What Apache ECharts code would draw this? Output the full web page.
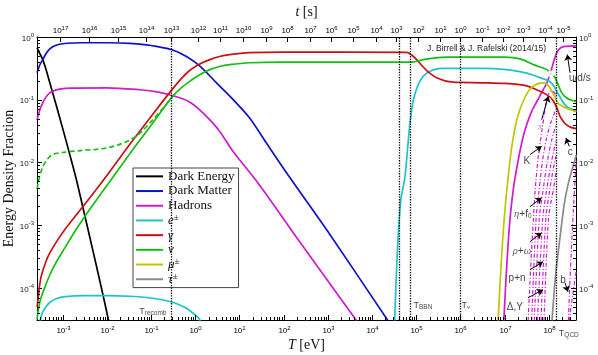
<!DOCTYPE html>
<html>
<head>
<meta charset="utf-8">
<script src="https://cdn.jsdelivr.net/npm/echarts@6/dist/echarts.min.js"></script>
<style>
  html, body { margin: 0; padding: 0; background: #fff; }
  #chart { width: 598px; height: 355px; }
</style>
</head>
<body>
<div id="chart"></div>
<script>
// every curve is stored as [log10(T / eV), log10(energy density fraction)]
const darkEnergy = [[-3.58,-0.17],[-3.52,-0.26],[-3.45,-0.36],[-3.37,-0.53],[-3.29,-0.73],[-3.14,-1.10],[-2.99,-1.48],[-2.84,-1.87],[-2.69,-2.27],[-2.54,-2.72],[-2.31,-3.42],[-2.09,-4.10],[-1.96,-4.52]]
const darkMatter = [[-3.58,-0.57],[-3.52,-0.45],[-3.45,-0.36],[-3.37,-0.26],[-3.29,-0.19],[-3.18,-0.14],[-3.07,-0.115],[-2.9,-0.10],[-2.6,-0.092],[-2.0,-0.092],[-1.48,-0.10],[-1.1,-0.125],[-0.88,-0.15],[-0.54,-0.20],[-0.2,-0.31],[0.1,-0.46],[0.48,-0.73],[0.82,-0.97],[1.23,-1.29],[1.61,-1.69],[2.1,-2.2],[3.0,-3.1],[4.36,-4.52]]
const hadronsCold = [[-3.58,-1.32],[-3.52,-1.17],[-3.45,-1.05],[-3.37,-0.95],[-3.29,-0.89],[-3.18,-0.85],[-3.07,-0.83],[-2.8,-0.815],[-2.0,-0.81],[-1.26,-0.84],[-0.9,-0.87],[-0.58,-0.92],[-0.3,-0.98],[-0.12,-1.04],[0.1,-1.16],[0.33,-1.32],[0.55,-1.5],[0.86,-1.83],[1.39,-2.3],[2.37,-3.27],[3.65,-4.52]]
const hadronsHot = [[6.98,-4.52],[7.05,-3.6],[7.12,-2.9],[7.2,-2.4],[7.27,-2.1],[7.35,-1.8],[7.45,-1.5],[7.6,-1.2],[7.75,-1.0],[7.87,-0.84],[7.95,-0.74],[8.02,-0.6],[8.08,-0.46],[8.14,-0.32],[8.2,-0.22],[8.27,-0.17],[8.36,-0.15],[8.62,-0.14]]
const electronsCold = [[-3.51,-4.52],[-3.45,-4.38],[-3.38,-4.3],[-3.29,-4.23],[-3.15,-4.17],[-2.99,-4.14],[-2.5,-4.12],[-2.0,-4.12],[-1.48,-4.13],[-1.1,-4.15],[-0.73,-4.19],[-0.5,-4.23],[-0.35,-4.27],[-0.2,-4.32],[-0.05,-4.4],[0.05,-4.46],[0.12,-4.52]]
const electronsHot = [[4.51,-4.52],[4.58,-3.3],[4.65,-2.6],[4.74,-2.25],[4.8,-1.8],[4.86,-1.35],[4.93,-1.02],[5.01,-0.82],[5.1,-0.68],[5.23,-0.58],[5.4,-0.52],[5.6,-0.5],[6.5,-0.5],[7.04,-0.52],[7.4,-0.56],[7.65,-0.61],[7.85,-0.66],[8.0,-0.7],[8.1,-0.77],[8.18,-0.87],[8.27,-0.98],[8.35,-1.07],[8.45,-1.13],[8.62,-1.18]]
const photons = [[-3.58,-4.3],[-3.56,-4.2],[-3.52,-3.95],[-3.48,-3.8],[-3.38,-3.58],[-3.29,-3.44],[-3.1,-3.22],[-2.92,-3.04],[-2.72,-2.86],[-2.54,-2.7],[-2.24,-2.43],[-1.94,-2.15],[-1.48,-1.71],[-0.96,-1.23],[-0.54,-0.85],[-0.3,-0.65],[-0.12,-0.53],[0.1,-0.43],[0.33,-0.36],[0.55,-0.31],[0.78,-0.28],[1.23,-0.25],[2.0,-0.24],[4.78,-0.245],[4.9,-0.29],[5.01,-0.36],[5.12,-0.45],[5.23,-0.53],[5.35,-0.6],[5.46,-0.65],[5.65,-0.7],[5.84,-0.72],[6.5,-0.73],[7.0,-0.74],[7.34,-0.76],[7.55,-0.79],[7.72,-0.84],[7.85,-0.88],[7.95,-0.92],[8.03,-0.96],[8.1,-1.02],[8.18,-1.13],[8.25,-1.26],[8.33,-1.35],[8.4,-1.4],[8.5,-1.44],[8.62,-1.46]]
const neutrinos = [[-3.58,-4.5],[-3.55,-4.35],[-3.5,-4.18],[-3.41,-4.0],[-3.27,-3.76],[-3.14,-3.58],[-2.95,-3.36],[-2.77,-3.15],[-2.5,-2.86],[-2.24,-2.6],[-1.94,-2.31],[-1.48,-1.86],[-0.96,-1.37],[-0.54,-0.97],[-0.3,-0.8],[-0.05,-0.67],[0.1,-0.6],[0.33,-0.52],[0.55,-0.47],[0.78,-0.44],[1.23,-0.41],[2.0,-0.40],[4.9,-0.40],[5.05,-0.38],[5.16,-0.36],[5.35,-0.34],[5.69,-0.32],[7.0,-0.32],[7.19,-0.33],[7.4,-0.36],[7.65,-0.44],[7.85,-0.49],[7.95,-0.52],[8.05,-0.58],[8.14,-0.65],[8.22,-0.78],[8.29,-0.89],[8.38,-0.96],[8.48,-1.0],[8.62,-1.03]]
const neutrinosDashed = [[-3.58,-2.42],[-3.52,-2.22],[-3.45,-2.07],[-3.35,-1.95],[-3.22,-1.87],[-3.0,-1.84],[-2.6,-1.81],[-2.24,-1.79],[-1.95,-1.76],[-1.71,-1.71],[-1.5,-1.65],[-1.33,-1.58],[-1.15,-1.46],[-0.96,-1.32],[-0.75,-1.15],[-0.5,-0.94]]
const muons = [[6.85,-4.52],[6.93,-3.5],[7.0,-2.8],[7.08,-2.22],[7.15,-1.8],[7.22,-1.5],[7.3,-1.25],[7.42,-1.02],[7.55,-0.85],[7.68,-0.77],[7.8,-0.735],[7.9,-0.73],[7.98,-0.77],[8.06,-0.85],[8.13,-0.95],[8.2,-1.05],[8.3,-1.1],[8.45,-1.15],[8.62,-1.19]]
const taus = [[8.07,-4.52],[8.15,-3.8],[8.25,-3.2],[8.35,-2.65],[8.45,-2.3],[8.55,-2.05],[8.62,-1.88]]
// individual hadron species (dash-dot)
const pions = [[7.53,-4.52],[7.6,-3.5],[7.65,-2.9],[7.69,-2.43],[7.76,-1.9],[7.84,-1.5],[7.92,-1.12],[7.98,-0.93],[8.04,-0.86],[8.1,-0.87],[8.16,-0.92]]
const kaons = [[7.61,-4.52],[7.71,-2.9],[7.78,-2.43],[7.86,-1.95],[7.95,-1.6],[8.05,-1.35],[8.16,-1.15]]
const etaF0 = [[7.67,-4.52],[7.78,-2.9],[7.87,-2.43],[7.96,-2.0],[8.06,-1.65],[8.16,-1.4]]
const rhoOmega = [[7.74,-4.52],[7.86,-2.9],[7.95,-2.43],[8.04,-2.05],[8.16,-1.65]]
const nucleons = [[7.82,-4.52],[7.93,-2.9],[8.02,-2.43],[8.1,-2.1],[8.16,-1.9]]
const deltaHyperons = [[7.89,-4.52],[7.99,-2.9],[8.1,-2.43],[8.16,-2.15]]
const charm = [[8.44,-4.52],[8.5,-3.5],[8.55,-2.8],[8.59,-2.3],[8.62,-1.95]]
const bottom = [[8.46,-4.52],[8.54,-4.1],[8.62,-3.72]]

// bottom axis decades (eV)
const tempTicks = [1e-3, 1e-2, 1e-1, 1, 1e1, 1e2, 1e3, 1e4, 1e5, 1e6, 1e7, 1e8]
// top axis: temperature (eV) at which t = 10^k s
const tTickT = [8.57e-4,3.94e-3,1.79e-2,7.85e-2,0.289,1.16,3.59,11.8,39,117,389,1.2e3,3.7e3,1.23e4,3.55e4,1.1e5,3.39e5,9.8e5,3.0e6,9.3e6,2.57e7,8.1e7,2.1e8]
const tTickExp = [17,16,15,14,13,12,11,10,9,8,7,6,5,4,3,2,1,0,-1,-2,-3,-4,-5]

// reference temperatures (eV): recombination, BBN (two), neutrino freeze-out, QCD
const markTemps = [0.29, 4.1e4, 7.2e4, 9.8e5, 1.45e8]

const X_MIN = 2.63e-4, X_MAX = 4.1e8, Y_MIN = 3.1e-5, Y_MAX = 1
const SANS = 'Liberation Sans, Arial, sans-serif'
const SERIF = 'Liberation Serif, DejaVu Serif, serif'

const C = {
  black: '#000000', blue: '#1010c8', magenta: '#cc1ccc', cyan: '#1cc4cc',
  red: '#cc1010', green: '#12c012', yellow: '#c4c400', gray: '#8a8a8a'
}

const fromLog = pts => pts.map(p => [Math.pow(10, p[0]), Math.pow(10, p[1])])

const powRich = {
  b: { fontFamily: SANS, fontSize: 8, color: '#222', lineHeight: 9, padding: [3, 0, 0, 0] },
  s: { fontFamily: SANS, fontSize: 6, color: '#222', lineHeight: 6, verticalAlign: 'top' }
}
const expOf = v => Math.round(Math.log10(v))
const pow10 = v => '{b|10}{s|' + expOf(v) + '}'

function curve(name, pts, color, extra) {
  return Object.assign({
    name: name, type: 'line', data: fromLog(pts), symbol: 'none', showSymbol: false,
    smooth: 0.3, silent: true, z: 3,
    lineStyle: { color: color, width: 1.7 }, itemStyle: { color: color }
  }, extra || {})
}
const dashDot = { lineStyle: { color: C.magenta, width: 1.2, type: [4, 2, 1, 2] } }

// minor log ticks (2..9 in each decade) drawn along the frame
const minorTicks = []
for (let e = -4; e <= 8; e++) for (let k = 2; k <= 9; k++) {
  const v = k * Math.pow(10, e)
  if (v > X_MIN && v < X_MAX) minorTicks.push([v, Y_MAX, 0])
}
for (let e = -5; e <= -1; e++) for (let k = 2; k <= 9; k++) {
  const v = k * Math.pow(10, e)
  if (v > Y_MIN && v < Y_MAX) minorTicks.push([X_MIN, v, 1])
}

// annotation anchors: [key, log10 T, log10 fraction]
const notes = [
  ['recomb', -0.96, -4.38], ['bbn', 5.15, -4.28], ['nu', 6.12, -4.28], ['qcd', 8.45, -4.72],
  ['uds', 8.70, -0.65], ['pi', 7.80, -1.44], ['K', 7.50, -1.98], ['c', 8.48, -1.83],
  ['eta', 7.41, -2.83], ['rho', 7.39, -3.42], ['pn', 7.28, -3.85], ['delta', 7.23, -4.30], ['b', 8.32, -3.87]
]
const noteText = {
  recomb: '{n|T}{sub|recomb}', bbn: '{n|T}{sub|BBN}', nu: '{n|T}{subg|ν}', qcd: '{n|T}{sub|QCD}',
  uds: '{m|u/d/s}', pi: '{gp|π}', K: '{m|K}', c: '{m|c}',
  eta: '{g|η}{m|+f}{sub|0}', rho: '{g|ρ}{m|+}{g|ω}', pn: '{m|p+n}', delta: '{m|Δ,Y}', b: '{m|b}'
}
// arrows: [tail, head] in log10 units
const arrows = [
  [[8.477,-0.57],[8.416,-0.28]], [[7.836,-1.316],[7.986,-0.944]], [[7.571,-1.874],[7.836,-1.742]],
  [[8.461,-1.742],[8.386,-1.608]], [[7.571,-2.703],[7.836,-2.56]], [[7.571,-3.262],[7.836,-3.118]],
  [[7.571,-3.708],[7.866,-3.581]], [[7.526,-4.155],[7.866,-4.027]], [[8.364,-3.915],[8.431,-4.059]]
]
const crossing = [[8.04, -0.59]]

const legendNames = ['Dark Energy', 'Dark Matter', 'Hadrons', 'e±', 'γ', 'ν', 'μ±', 'τ±']
const legendFmt = {
  'e±': '{it|e}{sup|±}', 'γ': '{it|γ}', 'ν': '{it|ν}', 'μ±': '{it|μ}{sup|±}', 'τ±': '{it|τ}{sup|±}'
}

const chart = echarts.init(document.getElementById('chart'), null, { renderer: 'canvas' })

const frameStroke = { stroke: '#000', lineWidth: 1 }
const nameStyle = {
  fontFamily: SERIF, fontSize: 14, color: '#111',
  rich: { i: { fontFamily: SERIF, fontSize: 14, fontStyle: 'italic', color: '#111' } }
}

const option = {
  animation: false,
  backgroundColor: '#fff',
  title: {
    text: 'J. Birrell & J. Rafelski (2014/15)', left: 427, top: 44, padding: 0,
    textStyle: { fontFamily: SANS, fontSize: 8.5, fontWeight: 'normal', color: '#222' }
  },
  grid: { left: 37, right: 22, top: 37, bottom: 35, containLabel: false, outerBoundsMode: 'none' },
  legend: {
    data: legendNames, orient: 'vertical', left: 133, top: 168, selectedMode: false,
    icon: 'rect', itemWidth: 27, itemHeight: 2, itemGap: 0,
    padding: [1, 4, 1, 3], backgroundColor: '#fff', borderColor: '#444', borderWidth: 1,
    formatter: n => legendFmt[n] || ('{r|' + n + '}'),
    textStyle: {
      fontFamily: SERIF, fontSize: 13, color: '#111', lineHeight: 14.7,
      rich: {
        r: { fontFamily: SERIF, fontSize: 13, color: '#111', lineHeight: 14.7 },
        it: { fontFamily: SERIF, fontSize: 13, fontStyle: 'italic', color: '#111', lineHeight: 14.7 },
        sup: { fontFamily: SERIF, fontSize: 9, color: '#111', lineHeight: 9, verticalAlign: 'top' }
      }
    }
  },
  xAxis: [{
    type: 'log', logBase: 10, min: X_MIN, max: X_MAX, position: 'bottom',
    name: '{i|T} [eV]', nameLocation: 'middle', nameGap: 18, nameMoveOverlap: false,
    nameTextStyle: nameStyle,
    axisLine: { show: true, lineStyle: { color: '#000', width: 1 } },
    axisTick: { show: false }, axisLabel: { show: false },
    splitLine: { show: false }
  }, {
    type: 'log', logBase: 10, min: X_MIN, max: X_MAX, position: 'top',
    name: '{i|t} [s]', nameLocation: 'middle', nameGap: 18, nameMoveOverlap: false,
    nameTextStyle: nameStyle,
    axisLine: { show: true, lineStyle: { color: '#000', width: 1 } },
    axisTick: { show: false }, axisLabel: { show: false }, splitLine: { show: false }
  }],
  yAxis: [{
    type: 'log', logBase: 10, min: Y_MIN, max: Y_MAX, position: 'left',
    name: 'Energy Density Fraction', nameLocation: 'middle', nameGap: 21, nameMoveOverlap: false,
    nameTextStyle: { fontFamily: SERIF, fontSize: 14, color: '#111' },
    axisLine: { show: true, lineStyle: { color: '#000', width: 1 } },
    axisTick: { show: true, inside: true, length: 5, lineStyle: { color: '#000' } },
    axisLabel: { formatter: pow10, rich: powRich, margin: 3, showMinLabel: false },
    splitLine: { show: false }
  }, {
    type: 'log', logBase: 10, min: Y_MIN, max: Y_MAX, position: 'right',
    axisLine: { show: true, lineStyle: { color: '#000', width: 1 } },
    axisTick: { show: true, inside: true, length: 5, lineStyle: { color: '#000' } },
    axisLabel: { formatter: pow10, rich: powRich, margin: 3, showMinLabel: false },
    splitLine: { show: false }
  }],
  series: [
    curve('Dark Energy', darkEnergy, C.black),
    curve('Dark Matter', darkMatter, C.blue),
    curve('Hadrons', hadronsCold, C.magenta),
    curve('Hadrons', hadronsHot, C.magenta),
    curve('e±', electronsCold, C.cyan),
    curve('e±', electronsHot, C.cyan),
    curve('γ', photons, C.red),
    curve('ν', neutrinos, C.green),
    curve('ν dashed', neutrinosDashed, C.green, { lineStyle: { color: C.green, width: 1.7, type: [5, 3] } }),
    curve('μ±', muons, C.yellow),
    curve('τ±', taus, C.gray, {
      markLine: {
        silent: true, symbol: 'none', animation: false,
        label: { show: false },
        lineStyle: { color: '#000', width: 1.3, type: [1.3, 1.3] },
        data: markTemps.map(v => ({ xAxis: v }))
      }
    }),
    curve('π', pions, C.magenta, dashDot),
    curve('K', kaons, C.magenta, dashDot),
    curve('η+f0', etaF0, C.magenta, dashDot),
    curve('ρ+ω', rhoOmega, C.magenta, dashDot),
    curve('p+n', nucleons, C.magenta, dashDot),
    curve('Δ,Y', deltaHyperons, C.magenta, dashDot),
    curve('c', charm, C.magenta, dashDot),
    curve('b', bottom, C.magenta, dashDot),
    {
      name: 'crossing', type: 'scatter', data: fromLog(crossing), symbol: 'emptyCircle', symbolSize: 5,
      itemStyle: { color: '#fff', borderColor: '#000', borderWidth: 1.5 }, silent: true, z: 6
    },
    {
      name: 'notes', type: 'scatter', silent: true, clip: false, z: 7,
      symbolSize: 1, itemStyle: { color: 'rgba(0,0,0,0)' },
      data: notes.map(n => ({ name: n[0], value: [Math.pow(10, n[1]), Math.pow(10, n[2])] })),
      label: {
        show: true, position: 'inside', formatter: p => noteText[p.name],
        rich: {
          n: { fontFamily: SANS, fontSize: 9, color: '#111', lineHeight: 10 },
          sub: { fontFamily: SANS, fontSize: 6.5, color: '#111', lineHeight: 7, verticalAlign: 'bottom', padding: [6, 0, 0, 0] },
          subg: { fontFamily: SERIF, fontSize: 7, fontStyle: 'italic', color: '#111', lineHeight: 7, verticalAlign: 'bottom', padding: [6, 0, 0, 0] },
          m: { fontFamily: SANS, fontSize: 10, color: '#111', lineHeight: 11 },
          g: { fontFamily: SERIF, fontSize: 10.5, fontStyle: 'italic', color: '#333', lineHeight: 11 },
          gp: { fontFamily: SERIF, fontSize: 8, fontStyle: 'italic', color: '#777', lineHeight: 9 }
        }
      },
      markLine: {
        silent: true, animation: false, symbol: ['none', 'arrow'], symbolSize: 6,
        label: { show: false },
        lineStyle: { color: '#000', width: 1, type: 'solid' },
        data: arrows.map(a => [{ coord: [Math.pow(10, a[0][0]), Math.pow(10, a[0][1])] },
                               { coord: [Math.pow(10, a[1][0]), Math.pow(10, a[1][1])] }])
      }
    },
    {
      name: 'minor ticks', type: 'custom', silent: true, clip: false, z: 8,
      data: minorTicks, encode: { x: 0, y: 1 },
      renderItem: (params, api) => {
        const cs = params.coordSys
        if (api.value(2) === 0) {
          const x = Math.round(api.coord([api.value(0), Y_MAX])[0]) + 0.5
          const b = cs.y + cs.height
          return { type: 'line', shape: { x1: x, y1: b, x2: x, y2: b - 3 }, style: frameStroke }
        }
        const y = Math.round(api.coord([X_MIN, api.value(1)])[1]) + 0.5
        return { type: 'group', children: [
          { type: 'line', shape: { x1: cs.x, y1: y, x2: cs.x + 3, y2: y }, style: frameStroke },
          { type: 'line', shape: { x1: cs.x + cs.width, y1: y, x2: cs.x + cs.width - 3, y2: y }, style: frameStroke }
        ] }
      }
    },
    {
      name: 'T axis', type: 'custom', silent: true, clip: false, z: 8,
      data: tempTicks.map(t => [t, Y_MAX]), encode: { x: 0, y: 1 },
      renderItem: (params, api) => {
        const cs = params.coordSys
        const b = cs.y + cs.height
        const x = Math.round(api.coord([api.value(0), Y_MAX])[0]) + 0.5
        return { type: 'group', children: [
          { type: 'line', shape: { x1: x, y1: b, x2: x, y2: b - 5 }, style: frameStroke },
          { type: 'text', x: x, y: b + 5,
            style: { text: pow10(api.value(0)), rich: powRich, align: 'center', verticalAlign: 'top' } }
        ] }
      }
    },
    {
      name: 't axis', type: 'custom', silent: true, clip: false, z: 8,
      data: tTickT.map((t, i) => [t, Y_MAX, tTickExp[i]]), encode: { x: 0, y: 1 },
      renderItem: (params, api) => {
        const cs = params.coordSys
        const x = Math.round(api.coord([api.value(0), Y_MAX])[0]) + 0.5
        return { type: 'group', children: [
          { type: 'line', shape: { x1: x, y1: cs.y, x2: x, y2: cs.y + 5 }, style: frameStroke },
          { type: 'text', x: x, y: cs.y - 3,
            style: { text: '{b|10}{s|' + api.value(2) + '}', rich: powRich, align: 'center', verticalAlign: 'bottom' } }
        ] }
      }
    }
  ]
}

chart.setOption(option)
</script>
</body>
</html>
